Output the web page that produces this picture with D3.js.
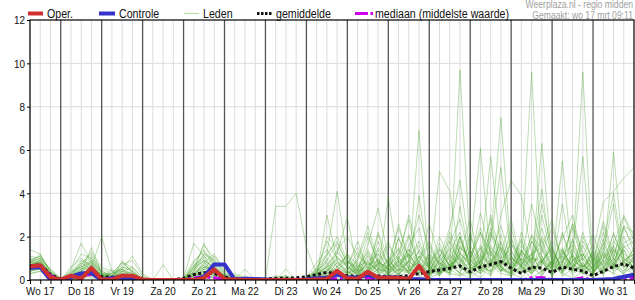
<!DOCTYPE html>
<html>
<head>
<meta charset="utf-8">
<script src="https://cdnjs.cloudflare.com/ajax/libs/d3/7.8.5/d3.min.js"></script>
<style>
    body { margin: 0; background: #fff; }
    svg { display: block; font-family: "Liberation Sans", Arial, sans-serif; }
</style>
</head>
<body>
<div id="chart"></div>
<script>
"use strict";

// tijd in uren sinds wo 17 00:00; eerste waarde om 06:00, daarna elke 6 uur
var startUur = 6;
var stapUur = 6;
var eindUur = 360;

var dagLabels = ["Wo 17", "Do 18", "Vr 19", "Za 20", "Zo 21", "Ma 22", "Di 23", "Wo 24",
                 "Do 25", "Vr 26", "Za 27", "Zo 28", "Ma 29", "Di 30", "Wo 31"];
var yTicks = [0, 2, 4, 6, 8, 10, 12];

// neerslag in mm per 6 uur
var oper = [0.62,0.68,0.12, 0.02,0.2,0.06,0.56, 0.02,0.02,0.2,0.2, 0.02,0,0,0, 0,0,0.1,0.49,
            0.05,0.02,0,0, 0,0,0,0, 0,0.02,0.05,0.42, 0.08,0.06,0.38,0.12, 0.1,0.1,0.05,0.65, 0];

var controle = [0.55,0.6,0, 0,0.15,0.3,0.33, 0,0.1,0.1,0.1, 0,0,0,0, 0,0,0.15,0.72,
                0.72,0.02,0.06,0.05, 0.02,0,0,0, 0.02,0.08,0.1,0.25, 0.12,0.12,0.23,0.12,
                0.12,0.12,0.05,0.03, 0,0,0,0, 0,0,0,0, 0,0,0,0, 0,0,0,0, 0,0.02,0.05,0.15, 0.25];

var gemiddelde = [0.65,0.7,0.25, 0.03,0.15,0.3,0.35, 0.15,0.13,0.15,0.1, 0.03,0.01,0.02,0.01,
                  0.08,0.25,0.33,0.3, 0.15,0.06,0.05,0.04, 0.05,0.08,0.08,0.1, 0.15,0.25,0.35,0.3,
                  0.2,0.15,0.3,0.2, 0.15,0.15,0.2,0.3, 0.38,0.46,0.54,0.65, 0.38,0.6,0.72,0.85,
                  0.55,0.3,0.6,0.55, 0.35,0.6,0.5,0.42, 0.2,0.4,0.62,0.75, 0.55];

var mediaan = [0.6,0.65,0.2, 0,0.1,0.2,0.25, 0.05,0.05,0.1,0.05, 0,0,0,0, 0,0.1,0.15,0.1,
               0.02,0,0,0, 0,0,0,0, 0,0.05,0.1,0.05, 0.05,0.05,0.1,0.05, 0.05,0.05,0.05,0.05,
               0,0,0,0, 0,0,0,0, 0,0,0.1,0.12, 0,0,0.02,0.1, 0,0,0,0, 0.1];

// ensembleleden, in tienden mm
var leden = [
    [7,8,2, 0,3,6,9, 2,1,3,2, 0,0,0,0, 0,2,4,3, 1,0,0,0, 0,0,1,0, 0,2,5,3, 1,6,9,4, 2,8,12,5, 3,9,14,6, 2,11,8,4, 6,3,12,18, 4,9,2,7, 3,10,15,6, 4],
    [5,6,1, 0,1,2,3, 0,0,2,4, 0,0,0,0, 1,6,9,2, 0,0,1,0, 0,0,0,1, 0,4,8,2, 0,3,14,6, 1,5,3,9, 16,7,3,12, 28,6,4,15, 9,3,18,11, 2,7,5,22, 8,25,10,3, 7],
    [9,11,4, 0,2,8,12, 3,2,6,5, 0,0,0,0, 0,4,17,7, 1,3,1,0, 0,1,2,0, 0,6,12,18, 7,2,5,22, 10,4,9,3, 12,8,3,20, 7,5,21,14, 5,3,10,8, 18,13,3,8, 2,5,16,30, 20],
    [6,7,3, 1,0,4,6, 20,4,1,0, 0,0,0,0, 0,0,3,5, 2,0,0,0, 0,0,0,0, 1,3,2,8, 4,1,9,12, 5,15,7,2, 0,10,24,46, 12,4,9,6, 3,14,7,2, 9,4,11,5, 14,6,3,9, 12],
    [4,5,1, 0,5,17,8, 1,0,9,3, 0,0,0,0, 1,17,11,4, 0,0,0,1, 0,0,0,0, 0,1,4,10, 6,3,2,7, 18,5,4,11, 3,6,2,16, 9,22,13,4, 11,6,4,19, 6,12,24,8, 3,17,7,4, 10],
    [8,10,5, 1,2,4,15, 3,3,8,6, 1,0,0,0, 0,3,8,12, 4,2,0,0, 0,0,0,0, 0,0,3,6, 12,7,3,15, 8,2,12,6, 4,50,41,9, 5,11,28,6, 2,13,8,35, 14,5,9,12, 4,9,21,11, 6],
    [14,12,3, 0,1,3,5, 0,0,1,2, 0,0,0,0, 0,2,6,4, 1,0,0,0, 0,0,0,0, 0,2,30,9, 3,5,2,8, 6,19,11,4, 2,8,5,97, 14,3,7,18, 5,12,96,4, 8,14,6,10, 3,12,7,15, 18],
    [5,6,2, 0,0,2,6, 2,1,5,1, 0,0,0,0, 0,1,5,3, 0,1,0,0, 0,0,0,0, 0,3,12,41, 10,2,8,4, 38,8,3,14, 6,3,11,7, 13,61,9,5, 2,7,12,4, 6,55,8,3, 10,2,14,6, 9],
    [7,9,3, 0,4,12,10, 4,2,3,1, 0,0,0,0, 0,5,12,8, 2,0,0,0, 0,0,0,0, 0,1,7,12, 29,4,6,3, 9,14,5,69, 2,6,15,10, 4,8,19,75, 11,4,6,9, 3,8,26,13, 7,3,10,5, 3],
    [3,4,1, 0,0,1,2, 0,0,0,1, 0,0,0,0, 0,1,2,1, 0,0,0,0, 0,0,0,0, 0,0,1,3, 2,0,1,5, 3,9,4,39, 7,14,6,20, 5,9,3,12, 28,8,5,63, 7,11,4,18, 9,4,16,8, 5],
    [8,8,2, 0,2,7,11, 5,3,8,4, 0,0,7,0, 0,6,16,10, 3,1,0,0, 0,0,0,0, 0,4,9,17, 8,6,13,5, 4,10,30,12, 5,3,20,8, 16,7,4,10, 14,5,10,9, 14,5,9,96, 3,15,6,25, 22],
    [6,7,2, 0,1,3,4, 1,0,2,1, 0,0,0,0, 0,2,4,2, 0,0,0,0, 0,34,34,40, 15,3,6,2, 1,4,2,8, 3,6,12,5, 2,9,4,13, 6,3,8,17, 5,10,3,7, 12,4,8,3, 6,13,5,9, 4],
    [10,9,3, 0,3,9,7, 1,5,0,0, 0,0,0,0, 0,8,14,6, 1,0,2,0, 0,0,5,0, 1,5,3,11, 6,18,4,2, 7,3,16,24, 4,12,7,3, 20,9,57,14, 3,6,18,9, 5,22,6,12, 4,8,59,10, 6],
    [5,7,2, 0,1,4,3, 0,1,2,0, 0,0,0,0, 0,0,1,2, 0,0,0,0, 0,0,0,0, 0,0,2,6, 3,9,22,7, 2,5,8,13, 9,3,5,2, 6,15,4,8, 17,6,3,9, 2,11,7,4, 13,36,41,47, 52],
    [9,8,2, 1,2,5,8, 2,3,4,1, 0,0,0,0, 0,4,9,5, 2,1,0,0, 0,0,0,0, 0,3,6,14, 20,11,7,9, 5,8,14,10, 18,6,22,12, 8,16,11,25, 9,19,7,13, 24,9,14,6, 10,7,18,12, 8],
    [4,6,1, 0,0,1,4, 1,0,1,2, 0,0,0,0, 0,1,3,2, 0,0,0,0, 0,0,0,0, 0,1,0,2, 4,1,3,18, 6,2,9,4, 1,3,8,5, 8,12,6,30, 46,39,12,15, 7,3,12,57, 4,19,6,3, 11],
    [6,8,3, 0,2,3,5, 3,1,2,0, 0,0,0,0, 0,3,7,3, 1,0,0,0, 0,1,0,0, 0,2,4,8, 3,7,2,5, 9,4,20,8, 3,14,9,6, 2,7,18,52, 10,6,3,8, 15,4,11,7, 3,9,6,14, 7],
    [7,6,2, 0,1,2,2, 0,0,1,1, 0,0,0,0, 0,0,2,1, 0,0,0,0, 0,0,0,0, 0,1,2,1, 0,2,4,1, 3,1,5,2, 4,2,7,3, 1,5,2,9, 3,1,6,2, 8,3,1,4, 2,6,3,1, 3],
    [8,12,4, 0,6,10,6, 2,2,7,9, 2,0,0,0, 1,9,13,9, 3,2,1,0, 0,0,1,0, 0,4,18,10, 7,15,6,12, 8,24,10,16, 5,11,18,7, 22,6,30,11, 4,13,9,20, 12,7,26,9, 16,6,11,25, 13],
    [5,5,1, 0,0,3,2, 1,0,0,0, 0,0,0,0, 0,2,5,11, 5,1,0,0, 0,0,0,0, 0,0,1,4, 9,3,1,2, 6,11,3,5, 8,2,9,20, 6,3,10,4, 19,8,12,3, 9,15,4,7, 2,13,8,20, 10],
    [11,10,5, 0,3,7,13, 6,4,5,11, 3,0,0,0, 0,7,10,5, 1,0,0,0, 0,0,0,0, 1,8,14,6, 3,10,25,9, 4,7,12,30, 14,8,4,15, 11,24,8,6, 17,9,35,14, 6,21,10,4, 9,27,12,6, 15],
    [6,7,2, 0,2,4,9, 3,0,4,3, 0,0,0,0, 0,3,6,5, 0,1,0,0, 0,0,0,0, 0,2,9,4, 12,3,8,4, 10,3,6,8, 3,17,6,12, 7,9,22,5, 3,10,6,14, 4,35,9,6, 12,4,10,29, 18],
    [7,9,3, 0,1,5,7, 2,1,3,2, 0,0,0,0, 0,2,8,4, 2,0,5,0, 0,2,1,0, 0,3,20,15, 5,9,4,21, 6,12,28,5, 9,4,13,22, 5,8,16,7, 13,6,21,8, 3,14,5,11, 21,8,5,16, 9],
    [4,5,2, 0,0,2,5, 0,0,2,2, 0,0,0,0, 0,1,3,5, 1,0,0,0, 0,0,0,0, 0,1,5,2, 6,2,12,3, 7,2,9,4, 11,3,7,10, 2,15,6,9, 5,12,4,8, 16,3,9,12, 5,11,4,8, 6],
    [9,11,4, 0,4,6,10, 3,2,5,3, 1,0,0,0, 0,5,9,6, 2,0,0,0, 0,0,0,0, 0,5,11,20, 9,4,16,33, 11,6,14,7, 26,10,5,18, 8,31,12,4, 10,7,20,15, 28,6,12,3, 7,17,40,9, 12],
    [5,6,2, 0,1,3,4, 1,0,1,3, 0,0,0,0, 0,1,4,3, 0,0,0,0, 0,0,0,0, 0,0,2,3, 1,5,3,9, 2,20,5,3, 7,2,12,6, 3,9,2,21, 6,14,4,9, 2,8,18,5, 11,3,7,14, 4],
    [8,7,2, 0,2,5,6, 1,1,4,2, 0,0,0,0, 0,3,6,4, 1,0,0,0, 0,0,1,0, 0,2,7,3, 2,6,3,10, 3,7,4,9, 2,11,4,15, 10,4,13,6, 24,7,3,10, 5,12,16,4, 8,3,14,10, 6],
    [6,9,3, 0,3,8,5, 2,1,4,6, 1,0,0,0, 0,4,11,7, 2,1,0,0, 0,0,0,0, 0,1,4,13, 7,2,11,5, 16,9,3,11, 5,20,9,3, 14,5,24,9, 7,18,5,30, 10,4,19,6, 13,5,22,8, 14],
    [3,4,1, 0,0,1,1, 0,0,0,0, 0,0,0,0, 0,0,1,1, 0,0,0,0, 0,0,0,0, 0,0,1,2, 0,1,2,0, 1,3,1,5, 2,6,3,2, 4,1,7,3, 2,5,1,4, 9,2,5,3, 1,4,8,2, 3],
    [7,8,3, 0,2,6,8, 4,2,6,4, 0,0,0,0, 0,6,12,9, 3,1,0,0, 0,0,2,0, 0,3,10,6, 11,4,20,8, 5,26,9,18, 6,3,17,28, 10,22,7,15, 6,16,9,24, 8,19,30,10, 5,22,9,17, 20],
    [5,7,2, 0,1,3,6, 2,0,3,1, 0,0,0,0, 0,2,5,3, 0,0,1,0, 0,0,0,0, 0,2,6,9, 4,13,5,7, 3,9,21,6, 12,5,3,34, 9,4,15,10, 20,6,11,42, 7,13,6,20, 9,14,35,6, 11],
    [8,10,3, 0,2,4,7, 1,3,5,2, 0,0,0,0, 0,3,7,4, 1,0,0,0, 0,0,0,0, 0,1,3,5, 2,8,3,14, 4,10,6,3, 8,15,6,11, 4,9,14,6, 3,22,8,11, 5,9,4,16, 6,12,5,24, 16]
];

var width = 635, height = 300;
var plot = {left: 30, right: 634, top: 20, bottom: 280};

var svg = d3.select("#chart").append("svg")
    .attr("width", width)
    .attr("height", height);

var x = d3.scaleLinear().domain([startUur, eindUur]).range([plot.left, plot.right]);
var y = d3.scaleLinear().domain([0, 12]).range([plot.bottom, plot.top]);

var tijd = function (i) { return startUur + i * stapUur; };

// tekst iets smaller, zoals in het origineel
var knijp = function (sel, f) {
    sel.each(function () {
        var w = this.getComputedTextLength();
        d3.select(this).attr("textLength", w * f).attr("lengthAdjust", "spacingAndGlyphs");
    });
};

// raster
var zesUur = d3.range(startUur, eindUur + 1, 6);
var dagGrens = d3.range(24, eindUur, 24);

svg.append("g").selectAll("line")
    .data(zesUur.filter(function (h) { return h % 24 !== 0; }))
    .enter().append("line")
    .attr("x1", function (d) { return x(d); })
    .attr("x2", function (d) { return x(d); })
    .attr("y1", plot.top).attr("y2", plot.bottom)
    .attr("stroke", "#dcdcdc");

svg.append("g").selectAll("line")
    .data(yTicks.slice(1, -1))
    .enter().append("line")
    .attr("x1", plot.left).attr("x2", plot.right)
    .attr("y1", function (d) { return y(d); })
    .attr("y2", function (d) { return y(d); })
    .attr("stroke", "#dcdcdc");

svg.append("g").selectAll("line")
    .data(dagGrens)
    .enter().append("line")
    .attr("x1", function (d) { return x(d); })
    .attr("x2", function (d) { return x(d); })
    .attr("y1", plot.top).attr("y2", plot.bottom)
    .attr("stroke", "#555")
    .attr("stroke-width", 1.3);

svg.append("clipPath").attr("id", "clip")
    .append("rect")
    .attr("x", plot.left).attr("y", plot.top - 2)
    .attr("width", plot.right - plot.left).attr("height", plot.bottom - plot.top + 2);

var lijn = function (schaal) {
    return d3.line()
        .x(function (d, i) { return x(tijd(i)); })
        .y(function (d) { return y(d * schaal); });
};

var reeksen = svg.append("g").attr("clip-path", "url(#clip)");

// ensembleleden
reeksen.append("g").selectAll("path")
    .data(leden)
    .enter().append("path")
    .attr("d", lijn(0.1))
    .attr("fill", "none")
    .attr("stroke", "rgb(70,160,40)")
    .attr("stroke-opacity", 0.36)
    .attr("stroke-width", 1);

reeksen.append("path")
    .datum(gemiddelde)
    .attr("d", lijn(1))
    .attr("fill", "none")
    .attr("stroke", "#111")
    .attr("stroke-width", 3)
    .attr("stroke-dasharray", "3,2.5");

reeksen.append("path")
    .datum(mediaan)
    .attr("d", lijn(1))
    .attr("fill", "none")
    .attr("stroke", "#d000f0")
    .attr("stroke-width", 3)
    .attr("stroke-dasharray", "10,3,3,3");

reeksen.append("path")
    .datum(controle)
    .attr("d", lijn(1))
    .attr("fill", "none")
    .attr("stroke", "#3333cc")
    .attr("stroke-width", 4)
    .attr("stroke-linejoin", "round");

reeksen.append("path")
    .datum(oper)
    .attr("d", lijn(1))
    .attr("fill", "none")
    .attr("stroke", "#d03030")
    .attr("stroke-width", 4)
    .attr("stroke-linejoin", "round");

// kader
svg.append("rect")
    .attr("x", plot.left).attr("y", plot.top)
    .attr("width", plot.right - plot.left).attr("height", plot.bottom - plot.top)
    .attr("fill", "none")
    .attr("stroke", "#000")
    .attr("stroke-width", 1.2);

// assen
var xAs = svg.append("g")
    .attr("transform", "translate(0," + plot.bottom + ")")
    .call(d3.axisBottom(x).tickValues(zesUur).tickSize(4).tickFormat(""));
xAs.select(".domain").remove();

svg.append("g").selectAll("text")
    .data(dagLabels)
    .enter().append("text")
    .attr("x", function (d, i) { return x(i * 24 + 12); })
    .attr("y", 295)
    .attr("text-anchor", "middle")
    .attr("font-size", 11.5)
    .attr("fill", "#111")
    .text(function (d) { return d; })
    .call(knijp, 0.86);

var yAs = svg.append("g")
    .attr("transform", "translate(" + plot.left + ",0)")
    .call(d3.axisLeft(y).tickValues(yTicks).tickSize(3).tickPadding(2));
yAs.select(".domain").remove();
yAs.selectAll("text")
    .attr("font-size", 11.5)
    .attr("font-family", "Liberation Sans, Arial, sans-serif")
    .attr("fill", "#111")
    .call(knijp, 0.86);

// legenda
var legenda = svg.append("g");
var item = function (x1, x2, tekstX, kleur, breedte, streep, tekst) {
    legenda.append("line")
        .attr("x1", x1).attr("x2", x2)
        .attr("y1", 13.5).attr("y2", 13.5)
        .attr("stroke", kleur)
        .attr("stroke-width", breedte)
        .attr("stroke-dasharray", streep);
    legenda.append("text")
        .attr("x", tekstX).attr("y", 17.5)
        .attr("font-size", 12.5)
        .attr("fill", "#111")
        .text(tekst)
        .call(knijp, 0.85);
};
item(28, 43, 47, "#d03030", 4, null, "Oper.");
item(99, 115, 119, "#3333cc", 4, null, "Controle");
item(184, 199, 203, "#b8dcaa", 1.2, null, "Leden");
item(257, 272, 276, "#111", 3, "2.5,1.5", "gemiddelde");
item(355, 373, 375, "#d000f0", 3, "13,2.5,2.5", "mediaan (middelste waarde)");

svg.append("text")
    .attr("x", 633).attr("y", 8)
    .attr("text-anchor", "end")
    .attr("font-size", 10)
    .attr("fill", "#a0a0a0")
    .text("Weerplaza.nl - regio midden")
    .call(knijp, 0.86);

svg.append("text")
    .attr("x", 633).attr("y", 18.5)
    .attr("text-anchor", "end")
    .attr("font-size", 10)
    .attr("fill", "#a0a0a0")
    .text("Gemaakt: wo 17 mrt 09:11")
    .call(knijp, 0.86);
</script>
</body>
</html>
